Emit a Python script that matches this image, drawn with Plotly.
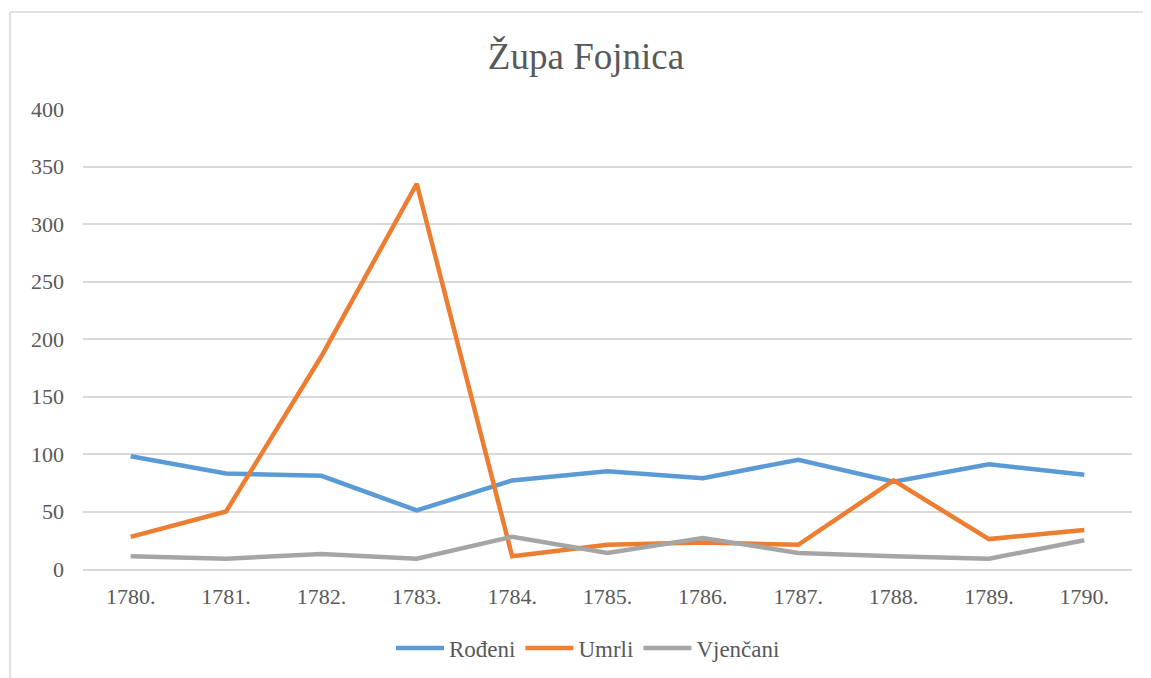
import plotly.graph_objects as go

years = ["1780.", "1781.", "1782.", "1783.", "1784.", "1785.", "1786.", "1787.", "1788.", "1789.", "1790."]
rodeni = [98, 83, 81, 51, 77, 85, 79, 95, 76, 91, 82]
umrli = [28, 50, 185, 335, 11, 21, 23, 21, 77, 26, 34]
vjencani = [11, 9, 13, 9, 28, 14, 27, 14, 11, 9, 25]

series = [("Rođeni", rodeni, "#5B9BD5"), ("Umrli", umrli, "#ED7D31"), ("Vjenčani", vjencani, "#A5A5A5")]

fig = go.Figure()
for name, vals, col in series:
    fig.add_trace(go.Scatter(x=years, y=vals, name=name, mode="lines",
                             line=dict(color=col, width=4.5)))

W, H = 1151, 678
OFF = 8  # page body margin
L, T, PW, PH = 83 - OFF, 109 - OFF, 1049, 460
FF = "Liberation Serif"
TXT = "#595959"
fig.update_layout(
    width=W, height=H,
    margin=dict(l=L, r=W - L - PW, t=T, b=H - T - PH),
    paper_bgcolor="white", plot_bgcolor="white",
    font=dict(family=FF, size=22, color=TXT),
    title=dict(text="Župa Fojnica", x=(586 - OFF) / W, xref="container", xanchor="center",
               y=1 - (56 - OFF) / H, yref="container", yanchor="middle",
               font=dict(size=37, color=TXT, family=FF)),
    xaxis=dict(type="category", range=[-0.5, 10.5], showgrid=False,
               showline=True, linecolor="#D9D9D9", linewidth=1.5,
               ticks="", tickfont=dict(size=22, color=TXT, family=FF), ticklabelstandoff=7),
    yaxis=dict(range=[0, 400], dtick=50, showgrid=True, gridcolor="#D9D9D9", gridwidth=1.5,
               zeroline=False, showline=False, ticks="",
               tickfont=dict(size=22, color=TXT, family=FF), ticklabelstandoff=18),
    legend=dict(orientation="h", xref="container", x=(588 - OFF) / W, xanchor="center",
                yref="container", y=1 - (648 - OFF) / H, yanchor="middle",
                font=dict(size=23, color=TXT, family=FF), itemwidth=48, tracegroupgap=0),
    showlegend=True,
)
bx = (10 - OFF - L) / PW
by = 1 + (T - (12 - OFF)) / PH
fig.add_shape(type="line", xref="paper", yref="paper",
              x0=bx, x1=1.1, y0=by, y1=by, line=dict(color="#D9D9D9", width=1.5))
fig.add_shape(type="line", xref="paper", yref="paper",
              x0=bx, x1=bx, y0=by, y1=-0.3, line=dict(color="#D9D9D9", width=1.5))
fig.write_html("out.html")
